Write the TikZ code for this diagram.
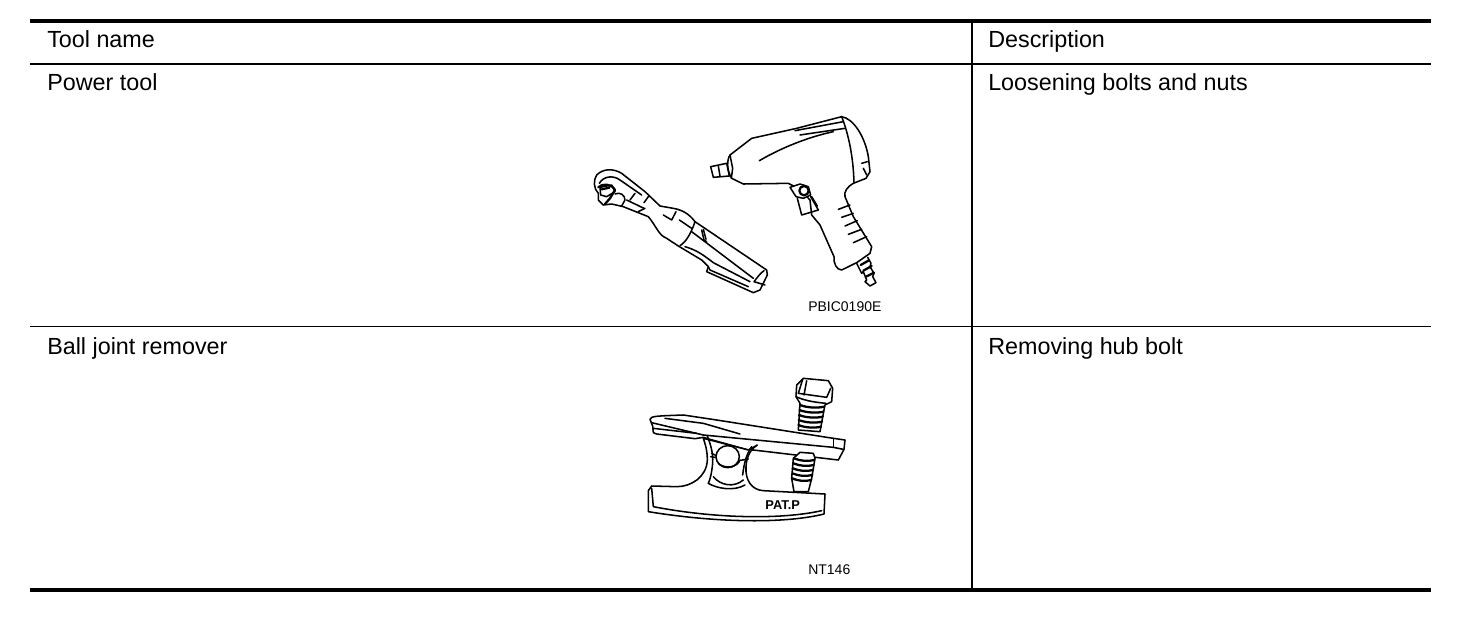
\documentclass[tikz,border=0pt]{standalone}
\usepackage{fontspec}
\setmainfont{Liberation Sans}
\tikzset{
  hrule/.style={line width=1.2pt,black},
  thick rule/.style={line width=3pt,black},
  cell/.style={anchor=base west,inner sep=0pt,font=\fontsize{17.5}{20}\selectfont},
  code/.style={anchor=base west,inner sep=0pt,font=\fontsize{10.5}{12}\selectfont},
  ink/.style={line width=1.15pt,black,line join=round,line cap=round},
  heavy/.style={line width=1.7pt,black,line join=round,line cap=round}
}
\begin{document}
\begin{tikzpicture}[x=0.75pt,y=-0.75pt]
\useasboundingbox (0,0) rectangle (1472,622);
\fill[white] (0,0) rectangle (1472,622);
% table rules
\coordinate (tl) at (30,21); \coordinate (tr) at (1431,21);
\coordinate (al) at (30,64); \coordinate (ar) at (1431,64);
\coordinate (bl) at (30,326.5); \coordinate (br) at (1431,326.5);
\coordinate (cl) at (30,590); \coordinate (cr) at (1431,590);
\coordinate (vt) at (972,21); \coordinate (vb) at (972,590);
\draw[hrule] (al)--(ar);
\draw[hrule] (bl)--(br);
\draw[hrule] (vt)--(vb);
\draw[thick rule] (tl)--(tr);
\draw[thick rule] (cl)--(cr);
% texts
\node[cell] (t1) at (47,47) {Tool name};
\node[cell] (t2) at (988,47) {Description};
\node[cell] (t3) at (47,90) {Power tool};
\node[cell] (t4) at (988,90) {Loosening bolts and nuts};
\node[cell] (t5) at (47,354) {Ball joint remover};
\node[cell] (t6) at (988,354) {Removing hub bolt};
\node[code] (c1) at (808,311) {PBIC0190E};
\node[code] (c2) at (808,574) {NT146};
% power tools (coordinates are those of a 3x crop at 570,100)
\begin{scope}[shift={(570,100)},x=0.25pt,y=-0.25pt]
 % impact gun
 \draw[ink,fill=white] (480,165) -- (545,115) -- (680,85) -- (815,50)
   .. controls (850,55) and (885,110) .. (895,170)
   -- (900,215) -- (888,235) -- (850,250)
   .. controls (830,262) and (822,275) .. (825,290)
   -- (850,350) -- (905,440) -- (900,460) -- (860,488) -- (815,510)
   .. controls (800,510) and (790,490) .. (792,470)
   -- (750,375) -- (725,345) -- (720,300)
   -- (690,268) -- (655,250) -- (520,252) -- (485,235)
   .. controls (470,210) and (470,180) .. (480,165);
 \draw[ink] (815,50) .. controls (835,100) and (850,170) .. (852,248);
 \draw[ink] (675,92) -- (820,65);
 \draw[ink] (690,105) -- (825,85);
 \draw[ink] (568,182) .. controls (640,140) and (720,110) .. (790,95);
 \draw[ink] (480,165) -- (488,205) -- (484,235);
 \draw[ink] (875,190) -- (892,185);
 \draw[ink] (880,205) -- (890,225);
 % square drive
 \draw[ink] (422,200) -- (470,190) -- (478,228) -- (430,232) -- cycle;
 \draw[ink] (445,198) -- (450,228);
 % trigger
 \draw[ink,fill=white] (660,262) -- (690,252) -- (715,260) -- (722,285) -- (700,295) -- (678,290) -- cycle;
 \draw[heavy] (702,272) circle[radius=14];
 \draw[ink] (682,295) -- (695,345) -- (745,330) -- (722,290);
 \draw[ink] (725,290) -- (742,318);
 % grip lines
 \draw[ink] (805,328) -- (840,315);
 \draw[ink] (815,352) -- (850,340);
 \draw[ink] (825,378) -- (862,362);
 \draw[ink] (835,403) -- (875,388);
 \draw[ink] (850,428) -- (890,410);
 % air fitting
 \draw[ink] (860,490) -- (875,520) -- (880,515) -- (890,540) -- (885,545) -- (900,558) -- (918,548) -- (908,530) -- (912,520) -- (900,500) -- (903,490) -- (893,472);
 \draw[heavy] (872,495) -- (895,482);
 \draw[heavy] (880,512) -- (905,498);
 \draw[heavy] (888,530) -- (912,518);
 % ratchet
 \draw[ink,fill=white] (80,225) .. controls (100,205) and (130,205) .. (155,220)
   -- (225,275) -- (270,318) -- (310,325)
   .. controls (340,330) and (360,345) .. (375,365)
   -- (590,510) -- (592,525) -- (570,570) -- (550,578)
   -- (410,515) -- (415,500) -- (395,480) -- (345,450) -- (325,438)
   -- (290,415) .. controls (265,405) and (260,380) .. (235,350)
   -- (205,338) -- (160,320) -- (125,312) -- (100,315) -- (85,300) -- (85,280)
   .. controls (70,265) and (70,240) .. (80,225);
 \draw[ink] (88,250) .. controls (100,228) and (130,225) .. (150,240) -- (215,285);
 \draw[heavy] (85,262) .. controls (95,250) and (125,250) .. (135,270) -- (120,295) -- (105,312);
 \draw[ink] (90,262) -- (125,255) -- (135,275) -- (110,290) -- (92,285) -- cycle;
 \draw[heavy] (95,268) -- (118,263);
 \draw[ink] (135,282) .. controls (150,275) and (165,285) .. (165,300) -- (155,318);
 \draw[ink] (170,300) -- (222,325);
 \draw[ink] (195,280) -- (180,300);
 \draw[ink] (235,290) -- (222,308);
 \draw[ink] (225,325) -- (205,335);
 \draw[ink] (280,345) -- (305,360) -- (318,335);
 \draw[ink] (328,360) -- (365,385);
 \draw[ink] (375,365) .. controls (365,395) and (350,425) .. (330,437);
 \draw[ink] (365,395) -- (550,535);
 \draw[ink] (395,390) -- (402,420) -- (410,425);
 \draw[ink] (400,388) -- (408,418);
 \draw[ink] (345,440) .. controls (380,450) and (400,465) .. (430,488) -- (540,545);
 \draw[ink] (582,512) .. controls (570,520) and (560,535) .. (552,545) -- (585,555);
 \draw[ink] (415,500) -- (420,510) -- (535,560);
\end{scope}
% ball joint remover (coordinates are those of a 3x crop at 620,360)
\begin{scope}[shift={(620,360)},x=0.25pt,y=-0.25pt]
 % bolt head and upper thread
 \draw[ink,fill=white] (530,75) -- (550,55) -- (625,62) -- (638,85) -- (635,125) -- (615,135) -- (612,150) -- (600,215) -- (535,210) -- (540,130) -- (528,110) -- cycle;
 \draw[ink] (548,58) -- (535,100) -- (620,112) -- (632,85);
 \draw[ink] (560,62) -- (552,105);
 \draw[ink] (528,110) .. controls (560,125) and (600,128) .. (618,130);
 \foreach \yy/\xa/\xb in {135/540/612,150/538/610,165/537/608,180/536/606,195/535/603}{
   \draw[heavy] (\xa,\yy) .. controls (\xa+20,\yy+8) and (\xb-20,\yy+10) .. (\xb,\yy+5);
 }
 % upper arm
 \draw[ink,fill=white] (90,178) .. controls (92,168) and (110,168) .. (190,165)
   -- (290,180) -- (640,235) -- (675,240) -- (672,268) -- (655,300)
   -- (400,270) -- (385,270) -- (270,238) -- (250,232) -- (225,236) -- (110,222) -- (100,218) -- (98,198) -- cycle;
 \draw[ink] (95,188) -- (250,225);
 \draw[ink] (250,225) -- (640,262) -- (670,268);
 \draw[ink] (100,205) -- (230,220);
 \draw[ink] (135,175) -- (250,190) -- (360,222);
 \draw[ink] (640,235) -- (640,262);
 % lower arm
 \draw[ink,fill=white] (85,392) -- (95,378) -- (170,380)
   .. controls (215,380) and (260,350) .. (262,300)
   .. controls (262,270) and (255,250) .. (250,235)
   -- (270,240) -- (385,270) -- (412,255)
   .. controls (395,265) and (380,285) .. (378,320)
   .. controls (375,360) and (395,390) .. (430,392)
   -- (615,402) -- (612,462)
   .. controls (500,490) and (300,490) .. (85,455) -- cycle;
 \draw[ink] (95,385) -- (100,440) .. controls (280,475) and (480,480) .. (605,452);
 \draw[ink] (262,228) .. controls (270,250) and (280,275) .. (278,310) .. controls (275,340) and (270,360) .. (265,370);
 \draw[ink] (265,370) .. controls (290,385) and (340,395) .. (375,375);
 \draw[ink] (280,350) .. controls (300,375) and (340,385) .. (370,360);
 \draw[ink] (395,260) .. controls (380,280) and (372,310) .. (368,345);
 \draw[ink] (275,280) -- (295,290);
 \draw[ink] (272,290) -- (290,293);
 \draw[ink] (355,302) -- (385,297);
 % ball
 \draw[ink,fill=white] (323,290) ellipse[x radius=35,y radius=33];
 \draw[ink] (295,310) .. controls (310,325) and (345,325) .. (358,305);
 % lower screw
 \draw[ink,fill=white] (520,295) -- (540,277) -- (580,280) -- (585,295) -- (575,355) -- (565,395) -- (522,395) -- (515,355) -- cycle;
 \foreach \yy/\xa/\xb in {295/522/583,310/520/581,325/518/579,340/517/577,355/516/574}{
   \draw[heavy] (\xa,\yy) .. controls (\xa+20,\yy+8) and (\xb-20,\yy+10) .. (\xb,\yy+5);
 }
 \node[font=\bfseries\fontsize{9.6}{11}\selectfont,inner sep=0pt] (pat) at (488,434) {PAT.P};
\end{scope}
\end{tikzpicture}
\end{document}
